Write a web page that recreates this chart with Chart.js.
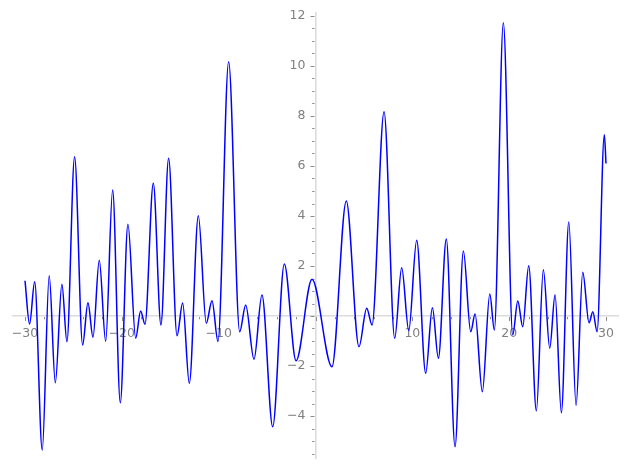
<!DOCTYPE html>
<html>
<head>
<meta charset="utf-8">
<script src="https://cdn.jsdelivr.net/npm/chart.js@4.4.1/dist/chart.umd.min.js"></script>
<style>
  html, body { margin: 0; padding: 0; background: #fff; }
  canvas { display: block; }
</style>
</head>
<body>
<canvas id="plot" width="627" height="469"></canvas>
<script>
// curve: turning points plus the two ends
const xs = [-30, -29.53, -29.0, -28.22, -27.5, -26.87, -26.19, -25.67, -24.88, -24.05,
  -23.5, -22.98, -22.33, -21.67, -20.95, -20.16, -19.37, -18.57, -18.06, -17.61,
  -16.75, -15.96, -15.17, -14.3, -13.72, -13.03, -12.1, -11.28, -10.69, -10.07,
  -8.97, -7.83, -7.21, -6.35, -5.53, -4.42, -3.22, -2.01, -0.36, 1.7,
  3.18, 4.49, 5.29, 5.84, 7.08, 8.18, 8.9, 9.63, 10.45, 11.38,
  12.07, 12.69, 13.51, 14.41, 15.27, 16.03, 16.48, 17.23, 18.0, 18.47,
  19.4, 20.37, 20.89, 21.4, 22.02, 22.81, 23.53, 24.19, 24.74, 25.39,
  26.16, 26.91, 27.6, 28.25, 28.64, 29.08, 29.83, 30.0];
const ys = [1.41, -0.32, 1.37, -5.36, 1.61, -2.67, 1.27, -1.03, 6.37, -1.16,
  0.53, -0.85, 2.23, -1.01, 5.04, -3.47, 3.67, -0.89, 0.2, -0.33,
  5.31, -0.36, 6.31, -0.79, 0.52, -2.69, 4.01, -0.29, 0.61, -1.02,
  10.17, -0.63, 0.44, -1.73, 0.84, -4.43, 2.08, -1.79, 1.47, -2.03,
  4.6, -1.23, 0.31, -0.36, 8.17, -0.89, 1.93, -0.58, 3.03, -2.29,
  0.33, -1.69, 3.08, -5.23, 2.6, -0.63, 0.08, -3.03, 0.88, -0.56,
  11.73, -0.76, 0.6, -0.43, 2.01, -3.79, 1.85, -1.29, 0.85, -3.87,
  3.76, -3.57, 1.75, -0.27, 0.17, -0.63, 7.25, 6.1];

const xLabelTicks = [-30, -20, -10, 10, 20, 30];
const yLabelTicks = [-4, -2, 2, 4, 6, 8, 10, 12];
const xMajorTicks = [-30, -20, -10, 0, 10, 20, 30];
const yMajorTicks = [-4, -2, 0, 2, 4, 6, 8, 10, 12];

const labelColor = '#808080';
const tickColor = '#8c8c8c';
const axisColor = '#dcdcdc';
const labelFont = '12.5px "DejaVu Sans"';

function fmt(v) {
  return v < 0 ? '\u2212' + Math.abs(v) : String(v);
}

// centred axes: drop the label padding chart.js would reserve
function noPad(scale) {
  scale.paddingLeft = 0;
  scale.paddingRight = 0;
  scale.paddingTop = 0;
  scale.paddingBottom = 0;
}

// sage-like tick marks (long on majors) and the y labels left of the axis
const axisMarks = {
  id: 'axisMarks',
  beforeDatasetsDraw(chart) {
    const ctx = chart.ctx;
    const sx = chart.scales.x, sy = chart.scales.y;
    const x0 = sx.getPixelForValue(0);
    const y0 = sy.getPixelForValue(0);
    ctx.save();
    ctx.strokeStyle = tickColor;
    ctx.lineWidth = 1;
    ctx.beginPath();
    sx.ticks.forEach(t => {
      const px = Math.round(sx.getPixelForValue(t.value)) + 0.5;
      const len = xMajorTicks.includes(t.value) ? 4 : 2.3;
      ctx.moveTo(px, y0 + 1);
      ctx.lineTo(px, y0 + 1 + len);
    });
    sy.ticks.forEach(t => {
      const py = Math.round(sy.getPixelForValue(t.value)) + 0.5;
      const len = yMajorTicks.includes(t.value) ? 4 : 2.3;
      ctx.moveTo(x0 - 1, py);
      ctx.lineTo(x0 - 1 - len, py);
    });
    ctx.stroke();

    ctx.fillStyle = labelColor;
    ctx.font = labelFont;
    ctx.textAlign = 'right';
    ctx.textBaseline = 'middle';
    yLabelTicks.forEach(v => {
      ctx.fillText(fmt(v), x0 - 10, sy.getPixelForValue(v));
    });
    ctx.restore();
  }
};

new Chart(document.getElementById('plot'), {
  type: 'line',
  data: {
    datasets: [{
      data: xs.map((x, i) => ({ x: x, y: ys[i] })),
      borderColor: '#0000ff',
      borderWidth: 1.5,
      pointRadius: 0,
      fill: false,
      cubicInterpolationMode: 'monotone'
    }]
  },
  options: {
    responsive: false,
    animation: false,
    events: [],
    layout: { padding: { left: 13, right: 9, top: 13, bottom: 11 } },
    plugins: { legend: { display: false }, tooltip: { enabled: false } },
    scales: {
      x: {
        type: 'linear',
        position: { y: 0 },
        min: -31.24,
        max: 31.24,
        afterFit: noPad,
        grid: { display: false, drawTicks: false },
        border: { display: true, color: axisColor, width: 1.6 },
        ticks: {
          stepSize: 2,
          includeBounds: false,
          autoSkip: false,
          maxRotation: 0,
          padding: 10,
          color: labelColor,
          font: { family: 'DejaVu Sans', size: 12.5 },
          callback: v => xLabelTicks.includes(v) ? fmt(v) : ''
        }
      },
      y: {
        type: 'linear',
        position: { x: 0 },
        min: -5.68,
        max: 12.12,
        afterFit: noPad,
        grid: { display: false, drawTicks: false },
        border: { display: true, color: axisColor, width: 1.6 },
        ticks: {
          stepSize: 0.5,
          includeBounds: false,
          autoSkip: false,
          display: false
        }
      }
    }
  },
  plugins: [axisMarks]
});
</script>
</body>
</html>
